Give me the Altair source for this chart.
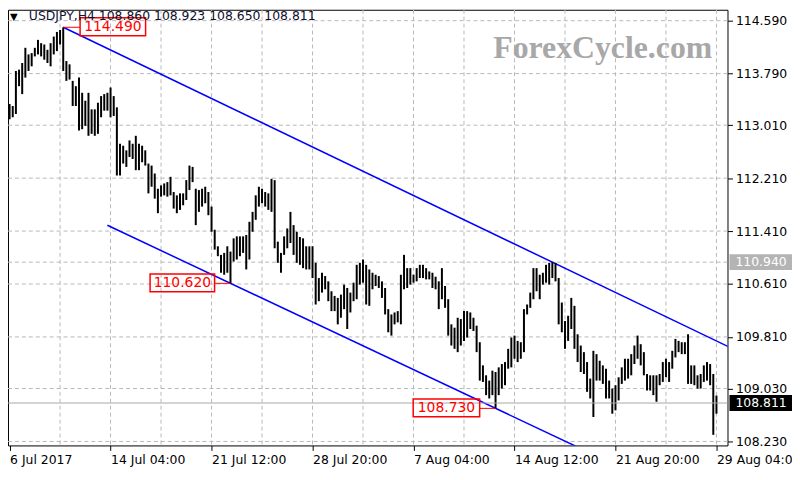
import altair as alt
import pandas as pd

# ---------------- data ----------------
highs = [
    113.33, 113.30, 113.83, 113.85, 113.95, 114.18, 114.08, 114.10, 114.18, 114.30,
    114.25, 114.23, 114.15, 114.25, 114.35, 114.42, 114.45, 114.49, 113.98, 113.93,
    113.68, 113.60, 113.73, 113.50, 113.38, 113.50, 113.25, 113.25, 113.35, 113.45,
    113.48, 113.50, 113.58, 113.45, 113.28, 112.73, 112.70, 112.63, 112.78, 112.73,
    112.85, 112.73, 112.70, 112.63, 112.43, 112.40, 112.28, 112.05, 112.10, 112.13,
    112.15, 112.23, 112.00, 111.95, 111.98, 111.98, 112.18, 112.40, 112.38, 112.05,
    112.03, 112.05, 112.08, 112.00, 111.78, 111.43, 111.18, 111.05, 111.08, 111.18,
    111.10, 111.30, 111.33, 111.33, 111.33, 111.35, 111.55, 111.70, 111.95, 112.08,
    112.05, 112.00, 111.98, 112.20, 112.18, 111.25, 111.08, 111.33, 111.45, 111.70,
    111.50, 111.40, 111.32, 111.30, 111.18, 111.18, 111.18, 110.93, 110.70, 110.78,
    110.73, 110.65, 110.50, 110.43, 110.40, 110.45, 110.60, 110.55, 110.48, 110.63,
    110.90, 110.93, 110.98, 110.90, 110.83, 110.78, 110.75, 110.73, 110.65, 110.55,
    110.23, 110.15, 110.18, 110.20, 110.75, 111.05, 110.85, 110.85, 110.75, 110.85,
    110.90, 110.90, 110.85, 110.80, 110.78, 110.72, 110.65, 110.85, 110.58, 110.38,
    110.00, 109.95, 110.10, 110.08, 110.20, 110.20, 110.18, 110.10, 109.98, 109.73,
    109.38, 109.23, 109.15, 109.30, 109.28, 109.35, 109.40, 109.43, 109.63, 109.80,
    109.83, 109.75, 109.73, 110.23, 110.30, 110.48, 110.85, 110.85, 110.75, 110.78,
    110.90, 110.93, 110.94, 110.93, 110.70, 110.33, 110.05, 110.13, 110.40, 110.28,
    109.85, 109.68, 109.58, 109.43, 109.18, 109.60, 109.55, 109.45, 109.38, 109.33,
    109.15, 109.03, 109.08, 109.20, 109.35, 109.48, 109.48, 109.55, 109.68, 109.83,
    109.70, 109.58, 109.25, 109.23, 109.23, 109.23, 109.25, 109.43, 109.48, 109.43,
    109.60, 109.78, 109.75, 109.73, 109.73, 109.85, 109.38, 109.38, 109.23, 109.25,
    109.38, 109.43, 109.40, 109.25, 108.923,
]
lows = [
    113.10, 113.13, 113.18, 113.60, 113.48, 113.73, 113.83, 113.90, 114.05, 114.08,
    114.05, 114.00, 113.95, 113.90, 114.08, 114.13, 114.23, 113.83, 113.68, 113.70,
    113.30, 113.30, 112.93, 112.95, 113.00, 112.85, 112.88, 112.85, 112.88, 113.13,
    113.23, 113.23, 113.13, 113.15, 112.25, 112.25, 112.43, 112.38, 112.53, 112.50,
    112.33, 112.33, 112.45, 112.40, 111.98, 112.08, 111.90, 111.68, 111.93, 111.95,
    111.93, 111.95, 111.75, 111.68, 111.73, 111.80, 111.88, 112.03, 112.15, 111.50,
    111.70, 111.78, 111.83, 111.65, 111.40, 111.13, 111.03, 110.78, 110.75, 110.78,
    110.62, 110.95, 110.98, 111.03, 111.08, 110.83, 110.98, 111.40, 111.58, 111.78,
    111.83, 111.78, 111.73, 111.70, 111.15, 110.93, 110.78, 111.05, 111.15, 111.23,
    111.05, 110.93, 110.90, 110.85, 110.83, 110.83, 110.70, 110.30, 110.35, 110.48,
    110.53, 110.35, 110.20, 110.20, 110.00, 110.10, 110.23, 109.93, 110.18, 110.35,
    110.38, 110.60, 110.63, 110.30, 110.28, 110.53, 110.58, 110.55, 110.40, 110.15,
    109.88, 109.83, 110.00, 110.03, 110.00, 110.53, 110.55, 110.60, 110.63, 110.65,
    110.70, 110.70, 110.68, 110.68, 110.55, 110.53, 110.23, 110.38, 110.25, 109.83,
    109.68, 109.63, 109.58, 109.68, 109.75, 109.80, 109.93, 109.90, 109.58, 109.15,
    109.13, 108.93, 108.88, 108.93, 108.73, 108.93, 109.03, 109.08, 109.33, 109.35,
    109.48, 109.43, 109.48, 109.58, 110.15, 110.25, 110.38, 110.50, 110.38, 110.60,
    110.63, 110.60, 110.70, 110.65, 110.00, 109.88, 109.63, 109.75, 109.93, 109.63,
    109.43, 109.28, 109.25, 108.98, 108.88, 108.60, 109.15, 109.15, 109.10, 108.88,
    108.88, 108.65, 108.70, 108.85, 109.10, 109.15, 109.18, 109.23, 109.40, 109.48,
    109.38, 109.23, 109.00, 109.00, 108.93, 108.83, 109.08, 109.13, 109.20, 109.13,
    109.33, 109.50, 109.58, 109.55, 109.55, 109.10, 109.10, 109.08, 109.03, 109.03,
    109.13, 109.15, 109.08, 108.33, 108.65,
]
x_tick_idx = [0, 32, 64, 96, 128, 160, 192, 224]
x_tick_labels = ["6 Jul 2017", "14 Jul 04:00", "21 Jul 12:00", "28 Jul 20:00",
                 "7 Aug 04:00", "14 Aug 12:00", "21 Aug 20:00", "29 Aug 04:00"]
v_grid_idx = [16, 32, 48, 64, 80, 96, 112, 128, 144, 160, 176, 192, 208, 224]
price_levels = [114.590, 113.790, 113.010, 112.210, 111.410, 110.610, 109.810, 109.030, 108.230]
upper_idx = [17, 172]
upper_px = [114.49, 110.94]
lower_idx = [70, 154]
lower_px = [110.62, 108.73]
lower_start = 31
level_price = 110.94
last_price = 108.811
ann_idx = [17, 70, 154]
ann_px = [114.49, 110.62, 108.73]
ann_txt = ["114.490", "110.620", "108.730"]
title_text = "USDJPY,H4  108.860 108.923 108.650 108.811"
watermark = "ForexCycle.com"

# ---------------- chart ----------------
W, H = 725, 439
FONT = "DejaVu Sans"
GRID = "#b8b8b8"
xs = alt.Scale(domain=[-0.5, 227.5], nice=False, zero=False)
ys = alt.Scale(domain=[108.17, 114.755], nice=False, zero=False)

label_expr = "[" + ",".join("'%s'" % t for t in x_tick_labels) + "][round(datum.value/32)]"

X_AXIS = alt.Axis(
    values=x_tick_idx, labelExpr=label_expr, orient="bottom", tickSize=5,
    tickColor="black", domain=False, grid=False, labelAlign="left",
    labelBaseline="top", labelPadding=3, labelFont=FONT, labelFontSize=12.5,
    labelColor="black", title=None, labelOverlap=False, labelFlush=False,
    labelBound=False)
Y_AXIS = alt.Axis(
    values=price_levels, format=".3f", orient="right", tickSize=5,
    tickColor="black", domain=False, grid=False, labelPadding=3,
    labelFont=FONT, labelFontSize=12.5, labelColor="black", title=None,
    labelOverlap=False, labelFlush=False, labelBound=False)


def X(f):
    return alt.X(f, scale=xs, axis=X_AXIS, title=None)


def Y(f):
    return alt.Y(f, scale=ys, axis=Y_AXIS, title=None)


bars = pd.DataFrame({"i": list(range(len(highs))), "high": highs, "low": lows})

grid_h = alt.Chart(pd.DataFrame({"p": price_levels + [level_price]})).mark_rule(
    color=GRID, strokeDash=[4, 3], strokeWidth=1
).encode(y=Y("p:Q"))

grid_v = alt.Chart(pd.DataFrame({"i": v_grid_idx})).mark_rule(
    color=GRID, strokeDash=[4, 3], strokeWidth=1
).encode(x=X("i:Q"))

last_line = alt.Chart(pd.DataFrame({"p": [last_price]})).mark_rule(
    color="#a8a8a8", strokeWidth=1
).encode(y=Y("p:Q"))


def trend(idx, px, i0, i1):
    s = (px[1] - px[0]) / (idx[1] - idx[0])
    return pd.DataFrame({"i": [i0, i1], "p": [px[0] + s * (i0 - idx[0]), px[0] + s * (i1 - idx[0])]})


upper = alt.Chart(trend(upper_idx, upper_px, upper_idx[0], 240)).mark_line(
    color="#0000ff", strokeWidth=1.5, clip=True
).encode(x=X("i:Q"), y=Y("p:Q"))
lower = alt.Chart(trend(lower_idx, lower_px, lower_start, 200)).mark_line(
    color="#0000ff", strokeWidth=1.5, clip=True
).encode(x=X("i:Q"), y=Y("p:Q"))

bar_layer = alt.Chart(bars).mark_rule(color="black", strokeWidth=2).encode(
    x=X("i:Q"), y=Y("high:Q"), y2="low:Q")

layers = [grid_h, grid_v, upper, lower, bar_layer, last_line]

# annotation boxes (offsets in pixels relative to the anchor bar)
ann_geom = [(17, 83, 50), (-81, -16, -48.5), (-83, -16, -49.5)]
for k in range(3):
    d = pd.DataFrame({"i": [ann_idx[k]], "p": [ann_px[k]], "t": [ann_txt[k]]})
    x0, x1, tx = ann_geom[k]
    base = alt.Chart(d)
    conn = base.mark_rule(color="red", strokeWidth=1, xOffset=0 if x0 > 0 else x1,
                          x2Offset=x0 if x0 > 0 else 0).encode(
        x=X("i:Q"), x2="i:Q", y=Y("p:Q"))
    box = base.mark_rect(fill="white", fillOpacity=0, stroke="red", strokeWidth=1.5,
                         xOffset=x0, x2Offset=x1, yOffset=-9.5, y2Offset=8.5).encode(
        x=X("i:Q"), x2="i:Q", y=Y("p:Q"), y2="p:Q")
    txt = base.mark_text(color="red", font=FONT, fontSize=14, dx=tx, dy=-0.5,
                         align="center", baseline="middle").encode(
        x=X("i:Q"), y=Y("p:Q"), text="t:N")
    layers += [conn, box, txt]

# right-axis price tags
tags = pd.DataFrame({"p": [level_price, last_price], "t": ["110.940", "108.811"],
                     "c": ["#b4b4b4", "black"]})
tag_box = alt.Chart(tags).mark_rect(yOffset=-8, y2Offset=8).encode(
    x=alt.value(W + 2), x2=alt.value(W + 65),
    y=Y("p:Q"), y2="p:Q",
    color=alt.Color("c:N", scale=None))
tag_txt = alt.Chart(tags).mark_text(color="white", font=FONT, fontSize=12.5,
                                    align="left", baseline="middle").encode(
    x=alt.value(W + 8), y=Y("p:Q"), text="t:N")
layers += [tag_box, tag_txt]

# header and watermark
hdr = pd.DataFrame({"t": [title_text]})
tri = alt.Chart(hdr).mark_text(text="▼", font=FONT, fontSize=10, color="black",
                               align="left", baseline="middle").encode(
    x=alt.value(2), y=alt.value(7))
ttl = alt.Chart(hdr).mark_text(font=FONT, fontSize=12.5, color="#101030",
                               align="left", baseline="middle").encode(
    x=alt.value(21), y=alt.value(6), text="t:N")
wm = alt.Chart(pd.DataFrame({"t": [watermark]})).mark_text(
    font="Liberation Serif", fontWeight="bold", fontSize=32, color="#a8a8a8",
    align="left", baseline="alphabetic").encode(
    x=alt.value(489), y=alt.value(49), text="t:N")
layers += [tri, ttl, wm]

chart = alt.layer(*layers).properties(
    width=W, height=H,
    autosize=alt.AutoSizeParams(type="none"),
    padding={"left": 0, "top": 0, "right": 65, "bottom": 25},
    background="white",
).configure_view(stroke="black", strokeWidth=1)

chart.save("out.html", embed_options={"renderer": "svg", "actions": False})
